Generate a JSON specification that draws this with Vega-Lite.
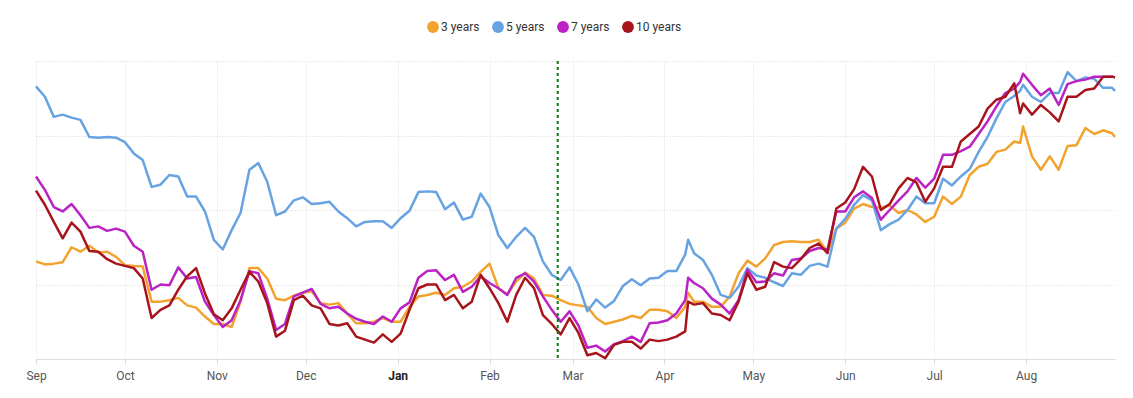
{
  "$schema": "https://vega.github.io/schema/vega-lite/v6.json",
  "width": 1079,
  "height": 298,
  "autosize": {"type": "none"},
  "padding": {"left": 36, "top": 61, "right": 18, "bottom": 39},
  "background": "white",
  "config": {"view": {"stroke": null}, "font": "Roboto"},
  "datasets": {
    "yields": [
      {"date": "2021-09-01", "3 years": 1.31, "5 years": 3.66, "7 years": 2.45, "10 years": 2.26},
      {"date": "2021-09-04", "3 years": 1.27, "5 years": 3.52, "7 years": 2.27, "10 years": 2.07},
      {"date": "2021-09-07", "3 years": 1.28, "5 years": 3.25, "7 years": 2.04, "10 years": 1.84},
      {"date": "2021-09-10", "3 years": 1.30, "5 years": 3.28, "7 years": 1.98, "10 years": 1.62},
      {"date": "2021-09-13", "3 years": 1.50, "5 years": 3.24, "7 years": 2.08, "10 years": 1.83},
      {"date": "2021-09-16", "3 years": 1.44, "5 years": 3.21, "7 years": 1.93, "10 years": 1.71},
      {"date": "2021-09-19", "3 years": 1.52, "5 years": 2.98, "7 years": 1.76, "10 years": 1.45},
      {"date": "2021-09-22", "3 years": 1.43, "5 years": 2.97, "7 years": 1.78, "10 years": 1.44},
      {"date": "2021-09-25", "3 years": 1.44, "5 years": 2.98, "7 years": 1.72, "10 years": 1.34},
      {"date": "2021-09-28", "3 years": 1.37, "5 years": 2.97, "7 years": 1.75, "10 years": 1.28},
      {"date": "2021-10-01", "3 years": 1.26, "5 years": 2.91, "7 years": 1.71, "10 years": 1.25},
      {"date": "2021-10-04", "3 years": 1.25, "5 years": 2.76, "7 years": 1.52, "10 years": 1.22},
      {"date": "2021-10-07", "3 years": 1.24, "5 years": 2.67, "7 years": 1.44, "10 years": 1.08},
      {"date": "2021-10-10", "3 years": 0.77, "5 years": 2.31, "7 years": 0.93, "10 years": 0.55},
      {"date": "2021-10-13", "3 years": 0.77, "5 years": 2.34, "7 years": 1.00, "10 years": 0.66},
      {"date": "2021-10-16", "3 years": 0.79, "5 years": 2.47, "7 years": 0.99, "10 years": 0.72},
      {"date": "2021-10-19", "3 years": 0.82, "5 years": 2.45, "7 years": 1.23, "10 years": 0.93},
      {"date": "2021-10-22", "3 years": 0.72, "5 years": 2.18, "7 years": 1.08, "10 years": 1.11},
      {"date": "2021-10-25", "3 years": 0.69, "5 years": 2.18, "7 years": 1.10, "10 years": 1.22},
      {"date": "2021-10-28", "3 years": 0.57, "5 years": 1.98, "7 years": 0.77, "10 years": 0.88},
      {"date": "2021-10-31", "3 years": 0.47, "5 years": 1.60, "7 years": 0.59, "10 years": 0.60},
      {"date": "2021-11-03", "3 years": 0.47, "5 years": 1.47, "7 years": 0.43, "10 years": 0.52},
      {"date": "2021-11-06", "3 years": 0.43, "5 years": 1.73, "7 years": 0.52, "10 years": 0.68},
      {"date": "2021-11-09", "3 years": 0.77, "5 years": 1.96, "7 years": 0.79, "10 years": 0.93},
      {"date": "2021-11-12", "3 years": 1.22, "5 years": 2.54, "7 years": 1.18, "10 years": 1.17},
      {"date": "2021-11-15", "3 years": 1.22, "5 years": 2.63, "7 years": 1.15, "10 years": 1.04},
      {"date": "2021-11-18", "3 years": 1.08, "5 years": 2.38, "7 years": 0.81, "10 years": 0.75},
      {"date": "2021-11-21", "3 years": 0.81, "5 years": 1.93, "7 years": 0.39, "10 years": 0.30},
      {"date": "2021-11-24", "3 years": 0.79, "5 years": 1.98, "7 years": 0.47, "10 years": 0.38},
      {"date": "2021-11-27", "3 years": 0.85, "5 years": 2.13, "7 years": 0.84, "10 years": 0.79},
      {"date": "2021-11-30", "3 years": 0.89, "5 years": 2.17, "7 years": 0.89, "10 years": 0.85},
      {"date": "2021-12-03", "3 years": 0.91, "5 years": 2.08, "7 years": 0.94, "10 years": 0.72},
      {"date": "2021-12-06", "3 years": 0.75, "5 years": 2.09, "7 years": 0.74, "10 years": 0.68},
      {"date": "2021-12-09", "3 years": 0.73, "5 years": 2.11, "7 years": 0.68, "10 years": 0.47},
      {"date": "2021-12-12", "3 years": 0.75, "5 years": 1.98, "7 years": 0.70, "10 years": 0.45},
      {"date": "2021-12-15", "3 years": 0.61, "5 years": 1.89, "7 years": 0.61, "10 years": 0.48},
      {"date": "2021-12-18", "3 years": 0.48, "5 years": 1.78, "7 years": 0.54, "10 years": 0.30},
      {"date": "2021-12-21", "3 years": 0.48, "5 years": 1.84, "7 years": 0.50, "10 years": 0.26},
      {"date": "2021-12-24", "3 years": 0.50, "5 years": 1.85, "7 years": 0.47, "10 years": 0.22},
      {"date": "2021-12-27", "3 years": 0.55, "5 years": 1.85, "7 years": 0.57, "10 years": 0.33},
      {"date": "2021-12-30", "3 years": 0.50, "5 years": 1.76, "7 years": 0.50, "10 years": 0.23},
      {"date": "2022-01-02", "3 years": 0.50, "5 years": 1.89, "7 years": 0.68, "10 years": 0.34},
      {"date": "2022-01-05", "3 years": 0.70, "5 years": 1.99, "7 years": 0.76, "10 years": 0.66},
      {"date": "2022-01-08", "3 years": 0.84, "5 years": 2.24, "7 years": 1.09, "10 years": 0.95},
      {"date": "2022-01-11", "3 years": 0.86, "5 years": 2.25, "7 years": 1.18, "10 years": 1.00},
      {"date": "2022-01-14", "3 years": 0.89, "5 years": 2.24, "7 years": 1.19, "10 years": 1.00},
      {"date": "2022-01-17", "3 years": 0.86, "5 years": 2.01, "7 years": 1.06, "10 years": 0.79},
      {"date": "2022-01-20", "3 years": 0.95, "5 years": 2.10, "7 years": 1.13, "10 years": 0.86},
      {"date": "2022-01-23", "3 years": 0.97, "5 years": 1.87, "7 years": 0.90, "10 years": 0.68},
      {"date": "2022-01-26", "3 years": 1.04, "5 years": 1.91, "7 years": 0.97, "10 years": 0.77},
      {"date": "2022-01-29", "3 years": 1.17, "5 years": 2.22, "7 years": 1.11, "10 years": 1.13},
      {"date": "2022-02-01", "3 years": 1.28, "5 years": 2.04, "7 years": 1.02, "10 years": 0.95},
      {"date": "2022-02-04", "3 years": 0.95, "5 years": 1.66, "7 years": 0.95, "10 years": 0.75},
      {"date": "2022-02-07", "3 years": 0.87, "5 years": 1.49, "7 years": 0.86, "10 years": 0.50},
      {"date": "2022-02-10", "3 years": 1.04, "5 years": 1.64, "7 years": 1.09, "10 years": 0.86},
      {"date": "2022-02-13", "3 years": 1.16, "5 years": 1.76, "7 years": 1.15, "10 years": 1.09},
      {"date": "2022-02-16", "3 years": 1.08, "5 years": 1.64, "7 years": 1.04, "10 years": 0.95},
      {"date": "2022-02-19", "3 years": 0.86, "5 years": 1.31, "7 years": 0.84, "10 years": 0.59},
      {"date": "2022-02-22", "3 years": 0.85, "5 years": 1.13, "7 years": 0.66, "10 years": 0.47},
      {"date": "2022-02-25", "3 years": 0.79, "5 years": 1.06, "7 years": 0.50, "10 years": 0.33},
      {"date": "2022-02-28", "3 years": 0.74, "5 years": 1.23, "7 years": 0.64, "10 years": 0.55},
      {"date": "2022-03-03", "3 years": 0.72, "5 years": 1.00, "7 years": 0.45, "10 years": 0.35},
      {"date": "2022-03-06", "3 years": 0.70, "5 years": 0.64, "7 years": 0.15, "10 years": 0.05},
      {"date": "2022-03-09", "3 years": 0.55, "5 years": 0.80, "7 years": 0.18, "10 years": 0.08},
      {"date": "2022-03-12", "3 years": 0.47, "5 years": 0.69, "7 years": 0.10, "10 years": 0.01},
      {"date": "2022-03-15", "3 years": 0.50, "5 years": 0.78, "7 years": 0.20, "10 years": 0.19},
      {"date": "2022-03-18", "3 years": 0.53, "5 years": 0.98, "7 years": 0.24, "10 years": 0.23},
      {"date": "2022-03-21", "3 years": 0.58, "5 years": 1.07, "7 years": 0.30, "10 years": 0.23},
      {"date": "2022-03-24", "3 years": 0.55, "5 years": 0.99, "7 years": 0.23, "10 years": 0.14},
      {"date": "2022-03-27", "3 years": 0.66, "5 years": 1.08, "7 years": 0.48, "10 years": 0.26},
      {"date": "2022-03-30", "3 years": 0.66, "5 years": 1.09, "7 years": 0.49, "10 years": 0.24},
      {"date": "2022-04-02", "3 years": 0.64, "5 years": 1.18, "7 years": 0.52, "10 years": 0.26},
      {"date": "2022-04-05", "3 years": 0.55, "5 years": 1.18, "7 years": 0.61, "10 years": 0.30},
      {"date": "2022-04-08", "3 years": 0.70, "5 years": 1.40, "7 years": 0.79, "10 years": 0.37},
      {"date": "2022-04-09", "3 years": 0.89, "5 years": 1.60, "7 years": 1.09, "10 years": 0.77},
      {"date": "2022-04-11", "3 years": 0.77, "5 years": 1.42, "7 years": 1.02, "10 years": 0.73},
      {"date": "2022-04-14", "3 years": 0.77, "5 years": 1.33, "7 years": 0.95, "10 years": 0.75},
      {"date": "2022-04-17", "3 years": 0.70, "5 years": 1.13, "7 years": 0.81, "10 years": 0.61},
      {"date": "2022-04-20", "3 years": 0.70, "5 years": 0.86, "7 years": 0.73, "10 years": 0.59},
      {"date": "2022-04-23", "3 years": 0.84, "5 years": 0.82, "7 years": 0.61, "10 years": 0.52},
      {"date": "2022-04-26", "3 years": 1.15, "5 years": 0.97, "7 years": 0.79, "10 years": 0.77},
      {"date": "2022-04-29", "3 years": 1.32, "5 years": 1.22, "7 years": 1.20, "10 years": 1.15},
      {"date": "2022-05-02", "3 years": 1.24, "5 years": 1.12, "7 years": 1.03, "10 years": 0.93},
      {"date": "2022-05-05", "3 years": 1.35, "5 years": 1.09, "7 years": 1.04, "10 years": 0.97},
      {"date": "2022-05-08", "3 years": 1.53, "5 years": 1.03, "7 years": 1.15, "10 years": 1.30},
      {"date": "2022-05-11", "3 years": 1.57, "5 years": 0.98, "7 years": 1.12, "10 years": 1.24},
      {"date": "2022-05-14", "3 years": 1.58, "5 years": 1.15, "7 years": 1.33, "10 years": 1.22},
      {"date": "2022-05-17", "3 years": 1.57, "5 years": 1.13, "7 years": 1.35, "10 years": 1.34},
      {"date": "2022-05-20", "3 years": 1.57, "5 years": 1.25, "7 years": 1.45, "10 years": 1.49},
      {"date": "2022-05-23", "3 years": 1.60, "5 years": 1.28, "7 years": 1.49, "10 years": 1.55},
      {"date": "2022-05-26", "3 years": 1.44, "5 years": 1.24, "7 years": 1.47, "10 years": 1.42},
      {"date": "2022-05-29", "3 years": 1.75, "5 years": 1.75, "7 years": 1.98, "10 years": 2.02},
      {"date": "2022-06-01", "3 years": 1.83, "5 years": 1.88, "7 years": 1.98, "10 years": 2.10},
      {"date": "2022-06-04", "3 years": 2.02, "5 years": 2.07, "7 years": 2.17, "10 years": 2.28},
      {"date": "2022-06-07", "3 years": 2.08, "5 years": 2.20, "7 years": 2.25, "10 years": 2.58},
      {"date": "2022-06-10", "3 years": 2.04, "5 years": 2.13, "7 years": 2.16, "10 years": 2.45},
      {"date": "2022-06-13", "3 years": 2.03, "5 years": 1.73, "7 years": 1.87, "10 years": 2.00},
      {"date": "2022-06-16", "3 years": 2.06, "5 years": 1.81, "7 years": 2.00, "10 years": 2.08},
      {"date": "2022-06-19", "3 years": 1.96, "5 years": 1.87, "7 years": 2.13, "10 years": 2.29},
      {"date": "2022-06-22", "3 years": 2.00, "5 years": 2.00, "7 years": 2.25, "10 years": 2.43},
      {"date": "2022-06-25", "3 years": 1.94, "5 years": 2.18, "7 years": 2.43, "10 years": 2.37},
      {"date": "2022-06-28", "3 years": 1.84, "5 years": 2.09, "7 years": 2.30, "10 years": 2.11},
      {"date": "2022-07-01", "3 years": 1.91, "5 years": 2.09, "7 years": 2.42, "10 years": 2.29},
      {"date": "2022-07-04", "3 years": 2.18, "5 years": 2.42, "7 years": 2.74, "10 years": 2.58},
      {"date": "2022-07-07", "3 years": 2.08, "5 years": 2.33, "7 years": 2.74, "10 years": 2.58},
      {"date": "2022-07-10", "3 years": 2.18, "5 years": 2.45, "7 years": 2.79, "10 years": 2.92},
      {"date": "2022-07-13", "3 years": 2.47, "5 years": 2.55, "7 years": 2.85, "10 years": 3.02},
      {"date": "2022-07-16", "3 years": 2.58, "5 years": 2.78, "7 years": 3.02, "10 years": 3.12},
      {"date": "2022-07-19", "3 years": 2.62, "5 years": 2.98, "7 years": 3.19, "10 years": 3.36},
      {"date": "2022-07-22", "3 years": 2.78, "5 years": 3.23, "7 years": 3.39, "10 years": 3.48},
      {"date": "2022-07-25", "3 years": 2.81, "5 years": 3.45, "7 years": 3.57, "10 years": 3.52},
      {"date": "2022-07-28", "3 years": 2.92, "5 years": 3.53, "7 years": 3.63, "10 years": 3.70},
      {"date": "2022-07-30", "3 years": 2.90, "5 years": 3.60, "7 years": 3.72, "10 years": 3.30},
      {"date": "2022-07-31", "3 years": 3.12, "5 years": 3.68, "7 years": 3.83, "10 years": 3.43},
      {"date": "2022-08-03", "3 years": 2.72, "5 years": 3.52, "7 years": 3.68, "10 years": 3.28},
      {"date": "2022-08-06", "3 years": 2.54, "5 years": 3.45, "7 years": 3.54, "10 years": 3.41},
      {"date": "2022-08-09", "3 years": 2.72, "5 years": 3.57, "7 years": 3.63, "10 years": 3.31},
      {"date": "2022-08-12", "3 years": 2.54, "5 years": 3.57, "7 years": 3.41, "10 years": 3.19},
      {"date": "2022-08-15", "3 years": 2.86, "5 years": 3.85, "7 years": 3.69, "10 years": 3.52},
      {"date": "2022-08-18", "3 years": 2.87, "5 years": 3.73, "7 years": 3.73, "10 years": 3.52},
      {"date": "2022-08-21", "3 years": 3.10, "5 years": 3.78, "7 years": 3.75, "10 years": 3.61},
      {"date": "2022-08-24", "3 years": 3.02, "5 years": 3.76, "7 years": 3.79, "10 years": 3.63},
      {"date": "2022-08-27", "3 years": 3.07, "5 years": 3.64, "7 years": 3.79, "10 years": 3.79},
      {"date": "2022-08-30", "3 years": 3.03, "5 years": 3.64, "7 years": 3.79, "10 years": 3.79},
      {"date": "2022-08-31", "3 years": 2.98, "5 years": 3.60, "7 years": 3.78, "10 years": 3.78}
    ],
    "event": [{"date": "2022-02-24"}]
  },
  "layer": [
    {
      "data": {"name": "yields"},
      "transform": [{"fold": ["3 years", "5 years", "7 years", "10 years"], "as": ["series", "value"]}],
      "mark": {"type": "line", "strokeWidth": 2.5, "strokeJoin": "round"},
      "encoding": {
        "x": {
          "field": "date",
          "type": "temporal",
          "scale": {
            "type": "utc",
            "domain": [
              {"year": 2021, "month": 9, "date": 1, "utc": true},
              {"year": 2022, "month": 8, "date": 31, "utc": true}
            ]
          },
          "axis": {
            "title": null,
            "format": "%b",
            "values": [
              {"year": 2021, "month": 9, "date": 1, "utc": true},
              {"year": 2021, "month": 10, "date": 1, "utc": true},
              {"year": 2021, "month": 11, "date": 1, "utc": true},
              {"year": 2021, "month": 12, "date": 1, "utc": true},
              {"year": 2022, "month": 1, "date": 1, "utc": true},
              {"year": 2022, "month": 2, "date": 1, "utc": true},
              {"year": 2022, "month": 3, "date": 1, "utc": true},
              {"year": 2022, "month": 4, "date": 1, "utc": true},
              {"year": 2022, "month": 5, "date": 1, "utc": true},
              {"year": 2022, "month": 6, "date": 1, "utc": true},
              {"year": 2022, "month": 7, "date": 1, "utc": true},
              {"year": 2022, "month": 8, "date": 1, "utc": true}
            ],
            "labelFlush": false,
            "labelOverlap": false,
            "labelFontSize": 12,
            "labelFont": "Roboto",
            "labelColor": {"condition": {"test": "utcmonth(datum.value) === 0", "value": "#222222"}, "value": "#555555"},
            "labelFontWeight": {"condition": {"test": "utcmonth(datum.value) === 0", "value": "bold"}, "value": "normal"},
            "labelPadding": 6,
            "domainColor": "#dddddd",
            "domainWidth": 1,
            "tickColor": "#dddddd",
            "tickSize": 5,
            "gridColor": "#ececec",
            "gridDash": [2, 1]
          }
        },
        "y": {
          "field": "value",
          "type": "quantitative",
          "scale": {"domain": [0, 4], "nice": false},
          "axis": {
            "title": null,
            "labels": false,
            "ticks": false,
            "domain": false,
            "values": [0, 1, 2, 3, 4],
            "gridColor": "#d6d6d6",
            "gridDash": [1, 2]
          }
        },
        "color": {
          "field": "series",
          "type": "nominal",
          "scale": {
            "domain": ["3 years", "5 years", "7 years", "10 years"],
            "range": ["#F2A32E", "#67A3E2", "#BA22C4", "#A8141C"]
          },
          "legend": {
            "orient": "none",
            "direction": "horizontal",
            "legendX": 391,
            "legendY": -40,
            "title": null,
            "symbolType": "circle",
            "symbolSize": 140,
            "labelFontSize": 12,
            "labelFont": "Roboto",
            "labelColor": "#333333",
            "labelOffset": 2,
            "columnPadding": 12,
            "encode": {
              "symbols": {
                "update": {
                  "fill": {"scale": "color", "field": "value"},
                  "strokeWidth": {"value": 0},
                  "opacity": {"value": 1}
                }
              }
            }
          }
        }
      }
    },
    {
      "data": {"name": "event"},
      "mark": {"type": "rule", "color": "#0c7a12", "strokeWidth": 2, "strokeDash": [3, 3]},
      "encoding": {"x": {"field": "date", "type": "temporal"}}
    }
  ]
}
